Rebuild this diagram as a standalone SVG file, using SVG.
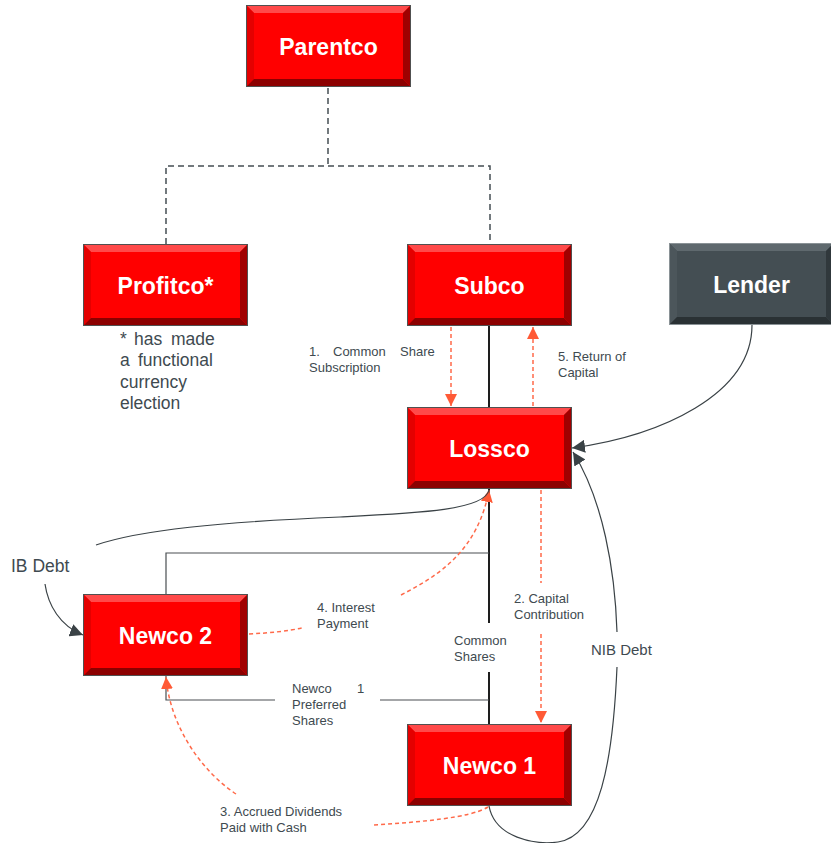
<svg xmlns="http://www.w3.org/2000/svg" xmlns:xlink="http://www.w3.org/1999/xlink" width="831" height="843" viewBox="0 0 831 843">
<style>
.box-label{font-family:"Liberation Sans",Arial,sans-serif;font-weight:bold;font-size:23px;fill:#ffffff;text-anchor:middle}
.lbl{font-family:"Liberation Sans",Arial,sans-serif;font-size:13px;fill:#404a50}
.note{font-family:"Liberation Sans",Arial,sans-serif;font-size:17.5px;fill:#404a50}
.own{fill:none;stroke:#444e53;stroke-width:1.5;stroke-dasharray:6 4}
.struct{fill:none;stroke:#4a4f52;stroke-width:1.2}
.main{fill:none;stroke:#1e1e1e;stroke-width:2}
.flow{fill:none;stroke:#ff6a4a;stroke-width:1.5;stroke-dasharray:4 3}
.debt{fill:none;stroke:#3a4246;stroke-width:1.2}
</style>
<defs>
<symbol id="redbox" viewBox="0 0 165 82" width="165" height="82">
<rect x="0" y="0" width="165" height="82" fill="#ff0000"/>
<polygon points="0,0 165,0 157,8 8,8" fill="#ff4a4a"/>
<polygon points="0,0 8,8 8,74 0,82" fill="#e40000"/>
<polygon points="0,82 8,74 157,74 165,82" fill="#8c0000"/>
<polygon points="165,0 165,82 157,74 157,8" fill="#a00000"/>
<rect x="0.5" y="0.5" width="164" height="81" fill="none" stroke="#505050" stroke-width="1"/>
</symbol>
<symbol id="greybox" viewBox="0 0 165 82" width="165" height="82">
<rect x="0" y="0" width="165" height="82" fill="#444e53"/>
<polygon points="0,0 165,0 157,8 8,8" fill="#5f696e"/>
<polygon points="0,0 8,8 8,74 0,82" fill="#4c565b"/>
<polygon points="0,82 8,74 157,74 165,82" fill="#2a3134"/>
<polygon points="165,0 165,82 157,74 157,8" fill="#30383c"/>
<rect x="0.5" y="0.5" width="164" height="81" fill="none" stroke="#8a9296" stroke-width="1"/>
</symbol>
<marker id="arrOrange" viewBox="0 0 10 10" refX="10" refY="5" markerWidth="12" markerHeight="12" markerUnits="userSpaceOnUse" orient="auto">
<path d="M0,0 L10,5 L0,10 z" fill="#ff5a36"/>
</marker>
<marker id="arrDark" viewBox="0 0 10 10" refX="10" refY="5" markerWidth="13" markerHeight="13" markerUnits="userSpaceOnUse" orient="auto">
<path d="M0,0 L10,5 L0,10 z" fill="#3a4246"/>
</marker>
</defs>

<g id="connectors">
<path class="own" d="M328,88 V166 M166,244 V166 H490 V244"/>
<path class="main" d="M489,326 V407 M489,489 V623 M489,672 V724"/>
<path class="struct" d="M166,594 V553 H489"/>
<path class="struct" d="M166,676 V700 H275 M380,700 H489"/>
<path class="flow" d="M451,327 V406" marker-end="url(#arrOrange)"/>
<path class="flow" d="M533,406 V327" marker-end="url(#arrOrange)"/>
<path class="flow" d="M541,490 V583"/>
<path class="flow" d="M541,634 V723" marker-end="url(#arrOrange)"/>
<path class="flow" d="M249,634 C270,633 288,631 302,628"/>
<path class="flow" d="M401,595 C440,575 478,550 489,490" marker-end="url(#arrOrange)"/>
<path class="flow" d="M488,807 C470,818 420,822 373,825"/>
<path class="flow" d="M236,794 C200,770 170,725 166,677" marker-end="url(#arrOrange)"/>
<path class="debt" d="M489,490 C485,510 420,513 340,517 C220,522 140,530 96,545"/>
<path class="debt" d="M45,584 C48,605 60,626 83,635" marker-end="url(#arrDark)"/>
<path class="debt" d="M752,325 C752,395 660,436 572,448" marker-end="url(#arrDark)"/>
<path class="debt" d="M489,806 C495,838 535,845 558,842 C600,836 613,760 617,667"/>
<path class="debt" d="M617,632 C615,570 603,500 573,452" marker-end="url(#arrDark)"/>
</g>

<g id="parentco"><use xlink:href="#redbox" x="246" y="5"/><text class="box-label" x="328.5" y="55">Parentco</text></g>
<g id="profitco"><use xlink:href="#redbox" x="83" y="244"/><text class="box-label" x="165.5" y="294">Profitco*</text></g>
<g id="subco"><use xlink:href="#redbox" x="407" y="244"/><text class="box-label" x="489.5" y="294">Subco</text></g>
<g id="lender"><use xlink:href="#greybox" x="669" y="243"/><text class="box-label" x="751.5" y="293">Lender</text></g>
<g id="lossco"><use xlink:href="#redbox" x="407" y="407"/><text class="box-label" x="489.5" y="457">Lossco</text></g>
<g id="newco2"><use xlink:href="#redbox" x="83" y="594"/><text class="box-label" x="165.5" y="644">Newco 2</text></g>
<g id="newco1"><use xlink:href="#redbox" x="407" y="724"/><text class="box-label" x="489.5" y="774">Newco 1</text></g>

<g id="labels">
<text class="note" y="345"><tspan x="120">*</tspan><tspan x="134">has</tspan><tspan x="171">made</tspan></text>
<text class="note" y="366"><tspan x="120">a</tspan><tspan x="138">functional</tspan></text>
<text class="note" x="120" y="388">currency</text>
<text class="note" x="120" y="409">election</text>
<text class="lbl" y="356"><tspan x="309">1.</tspan><tspan x="333">Common</tspan><tspan x="400">Share</tspan></text>
<text class="lbl" x="309" y="372">Subscription</text>
<text class="lbl" x="558" y="361">5. Return of</text>
<text class="lbl" x="558" y="377">Capital</text>
<text class="lbl" x="514" y="603">2. Capital</text>
<text class="lbl" x="514" y="619">Contribution</text>
<text class="lbl" x="454" y="645">Common</text>
<text class="lbl" x="454" y="661">Shares</text>
<text class="lbl" x="317" y="612">4. Interest</text>
<text class="lbl" x="317" y="628">Payment</text>
<text class="lbl" y="693"><tspan x="292">Newco</tspan><tspan x="357">1</tspan></text>
<text class="lbl" x="292" y="709">Preferred</text>
<text class="lbl" x="292" y="725">Shares</text>
<text class="lbl" x="220" y="816">3. Accrued Dividends</text>
<text class="lbl" x="220" y="832">Paid with Cash</text>
<text class="note" x="11" y="572">IB Debt</text>
<text class="note" x="591" y="655" style="font-size:15px">NIB Debt</text>
</g>
</svg>
